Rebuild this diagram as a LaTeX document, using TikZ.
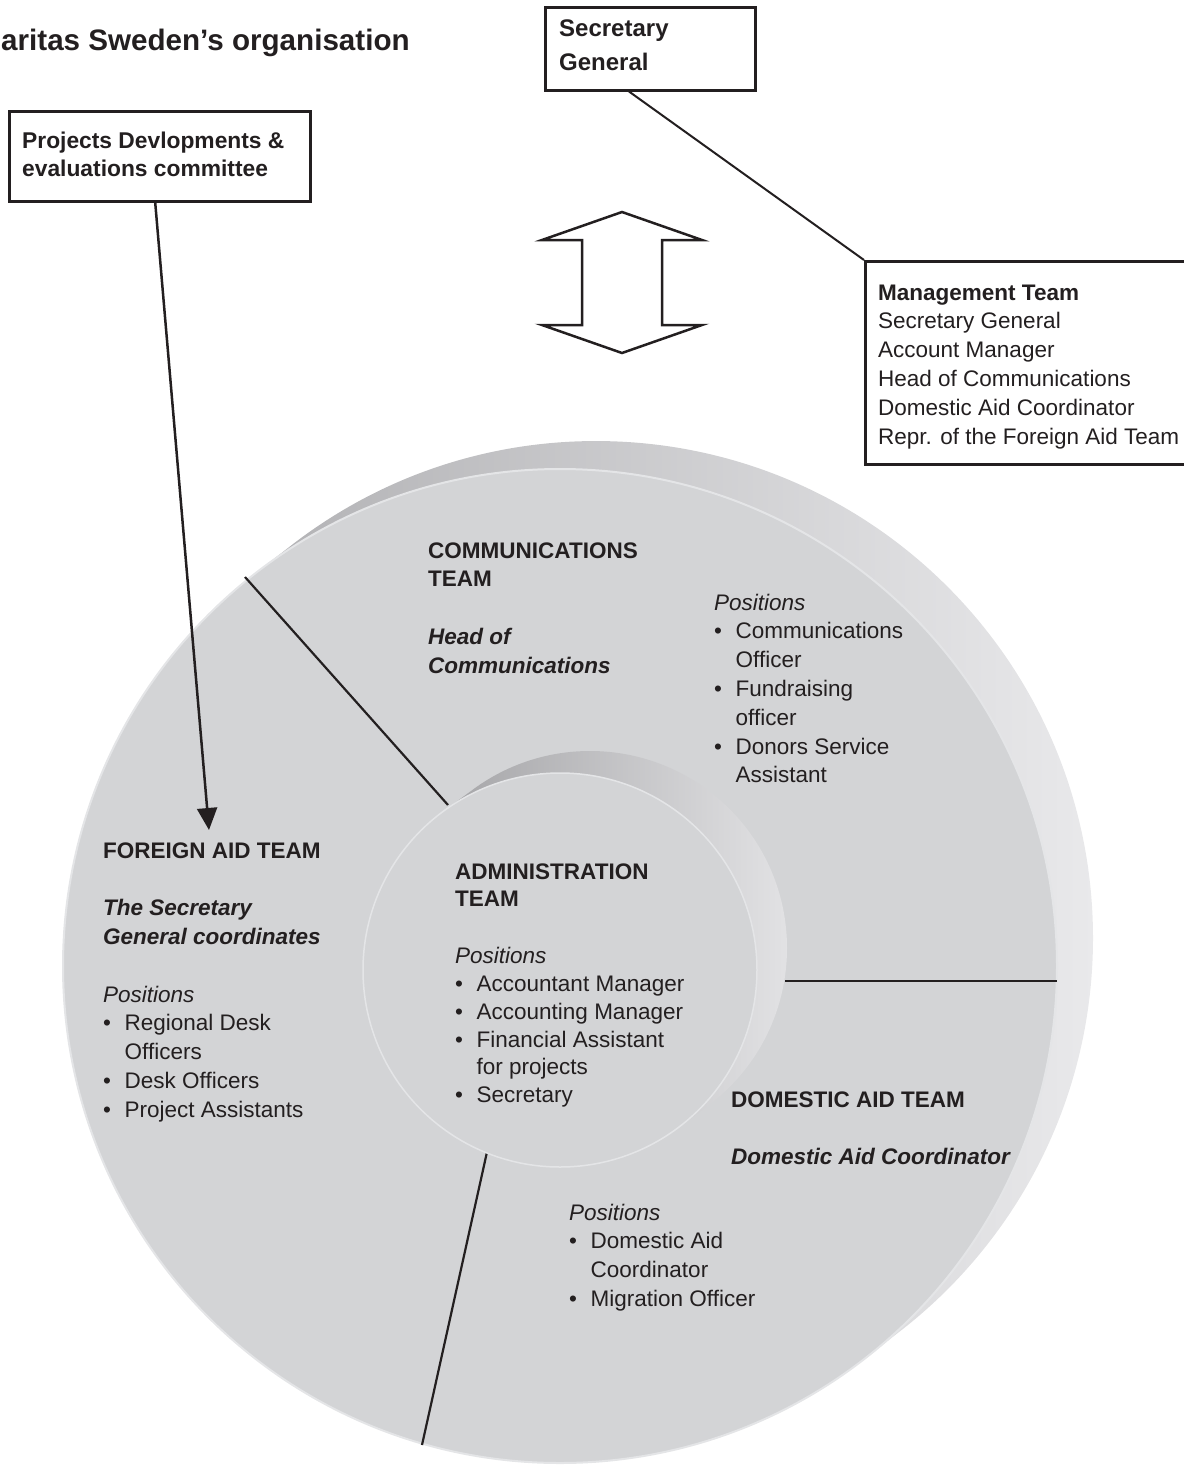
\documentclass[tikz,border=0pt]{standalone}
\usepackage{fontspec}
\setmainfont{Liberation Sans}
\usetikzlibrary{arrows.meta,calc}
\definecolor{face}{RGB}{211,212,214}
\definecolor{rim}{RGB}{228,229,231}
\definecolor{bandd}{RGB}{165,165,168}
\definecolor{bandl}{RGB}{234,234,236}
\definecolor{ibandd}{RGB}{150,150,153}
\definecolor{ibandl}{RGB}{228,228,230}
\definecolor{ink}{RGB}{35,31,32}
\newcommand\bulx{\makebox[21.5pt][l]{•}}
\newcommand\indx{\hspace*{21.5pt}}
\newcommand\blk[1]{\begin{tabular}[t]{@{}l@{}}#1\end{tabular}}
\begin{document}
\begin{tikzpicture}[x=1pt,y=-1pt,
  box/.style={draw=ink, line width=2.5pt, fill=white, inner sep=0pt, anchor=north west},
  txt/.style={inner sep=0pt, anchor=base west, text=ink, font=\fontsize{22.5}{28.8}\selectfont},
  divline/.style={draw=ink, line width=2.2pt},
  link/.style={draw=ink, line width=2pt},
]
\useasboundingbox (0,0) rectangle (1184,1468);
\clip (0,0) rectangle (1184,1468);

% ---- outer disk ----
\begin{scope}
  \clip foreach \i in {0,...,12} {(560+3*\i,966-2.33*\i) circle[radius=497pt]};
  \shade[left color=bandd, right color=bandl] (60,420) rectangle (1110,1470);
\end{scope}
\fill[face] (560,966) circle[radius=497pt];
\draw[rim, line width=2pt] (560,966) circle[radius=497pt];

% ---- dividing lines ----
\coordinate (ul1) at (245,577);  \coordinate (ul2) at (448,805);
\coordinate (r1)  at (785,981);  \coordinate (r2)  at (1057,981);
\coordinate (b1)  at (487,1152); \coordinate (b2)  at (422,1445);
\draw[divline] (ul1) -- (ul2);
\draw[divline] (r1) -- (r2);
\draw[divline] (b1) -- (b2);

% ---- inner cylinder ----
\begin{scope}
  \clip foreach \i in {0,...,10} {(560+3*\i,970-2.2*\i) circle[radius=197pt]};
  \shade[left color=ibandd, right color=ibandl] (360,740) rectangle (800,1170);
\end{scope}
\fill[face] (560,970) circle[radius=197pt];
\draw[rim, line width=1.5pt] (560,970) circle[radius=197pt];

% ---- title ----
\node[txt, font=\fontsize{29.6}{34}\selectfont\bfseries] (title) at (1,50) {aritas Sweden’s organisation};

% ---- boxes ----
\node[box, minimum width=301pt, minimum height=90pt] (pdc) at (8,110) {};
\node[txt, font=\fontsize{22.8}{28.8}\selectfont\bfseries] (pdct) at (22,148) {\blk{Projects Devlopments \&\\evaluations committee}};

\node[box, minimum width=210pt, minimum height=83pt] (sg) at (544,6) {};
\node[txt, font=\fontsize{24}{34}\selectfont\bfseries] (sgt) at (559,36) {\blk{Secretary\\General}};

\node[box, minimum width=340pt, minimum height=203pt] (mg) at (864,260) {};
\node[txt] (mgt) at (878,300) {\blk{\textbf{Management Team}\\Secretary General\\Account Manager\\Head of Communications\\Domestic Aid Coordinator\\Repr. of the Foreign Aid Team}};

\draw[link] ($(sg.south west)!0.4!(sg.south east)$) -- (mg.north west);

% ---- double arrow ----
\draw[draw=ink, fill=white, line width=2.5pt, line join=miter]
  (622,212) -- (702,240) -- (662,240) -- (662,325) -- (702,325) -- (622,353)
  -- (542,325) -- (582,325) -- (582,240) -- (542,240) -- cycle;

% ---- arrow to foreign aid ----
\coordinate (fat) at (209,830);
\draw[draw=ink, line width=2.5pt, -{Triangle[length=22pt,width=20pt]}]
  ($(pdc.south west)!0.485!(pdc.south east)$) -- (fat);

% ---- team texts ----
\node[txt] (comm) at (428,558) {\blk{\textbf{COMMUNICATIONS}\\\textbf{TEAM}\\[28.8pt]\textbf{\textit{Head of}}\\\textbf{\textit{Communications}}}};
\node[txt] (commpos) at (714,610) {\blk{\textit{Positions}\\\bulx Communications\\\indx Officer\\\bulx Fundraising\\\indx officer\\\bulx Donors Service\\\indx Assistant}};

\node[txt] (foreign) at (103,858) {\blk{\textbf{FOREIGN AID TEAM}\\[28.8pt]\textbf{\textit{The Secretary}}\\\textbf{\textit{General coordinates}}\\[28.8pt]\textit{Positions}\\\bulx Regional Desk\\\indx Officers\\\bulx Desk Officers\\\bulx Project Assistants}};

\node[txt, font=\fontsize{22.5}{27.8}\selectfont] (admin) at (455,879) {\blk{\textbf{ADMINISTRATION}\\\textbf{TEAM}\\[29pt]\textit{Positions}\\\bulx Accountant Manager\\\bulx Accounting Manager\\\bulx Financial Assistant\\\indx for projects\\\bulx Secretary}};

\node[txt] (domestic) at (731,1107) {\blk{\textbf{DOMESTIC AID TEAM}\\[28.8pt]\textbf{\textit{Domestic Aid Coordinator}}}};
\node[txt] (dompos) at (569,1220) {\blk{\textit{Positions}\\\bulx Domestic Aid\\\indx Coordinator\\\bulx Migration Officer}};
\end{tikzpicture}
\end{document}
